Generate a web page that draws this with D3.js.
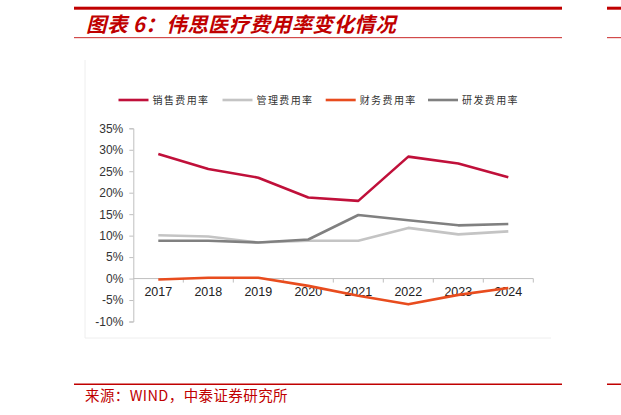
<!DOCTYPE html>
<html><head><meta charset="utf-8">
<script src="https://cdn.jsdelivr.net/npm/d3@7/dist/d3.min.js"></script>
<style>
body{margin:0;background:#fff;}
svg{display:block;}
</style></head>
<body>
<svg id="c" width="621" height="415"></svg>
<script>
const years = ["2017","2018","2019","2020","2021","2022","2023","2024"];
const seriesNames = ["销售费用率","管理费用率","财务费用率","研发费用率"];
const sales   = [29.0, 25.5, 23.5, 18.9, 18.1, 28.4, 26.8, 23.6];
const admin   = [10.1, 9.8, 8.4, 8.8, 8.8, 11.8, 10.3, 11.0];
const finance = [-0.2, 0.2, 0.2, -1.7, -4.0, -6.0, -3.8, -2.2];
const rnd     = [8.8, 8.8, 8.4, 9.1, 14.8, 13.6, 12.4, 12.7];
const yTicks  = [-10, -5, 0, 5, 10, 15, 20, 25, 30, 35];
const colors  = ["#C0103A", "#C4C4C4", "#E84C1E", "#808080"];
const seriesData = [sales, admin, finance, rnd];

const svg = d3.select("#c");
const red = "#C00000";

// header
svg.append("rect").attr("x",74).attr("y",6.7).attr("width",488).attr("height",3).attr("fill",red);
svg.append("rect").attr("x",607).attr("y",6.7).attr("width",14).attr("height",3).attr("fill",red);
svg.append("rect").attr("x",74).attr("y",37).attr("width",488).attr("height",1.2).attr("fill","#D24A4A");
svg.append("rect").attr("x",607).attr("y",37).attr("width",14).attr("height",1.2).attr("fill","#D24A4A");
svg.append("text").attr("x",86).attr("y",32).attr("fill",red)
  .attr("font-family","'Noto Sans CJK SC'").attr("font-size",20.5).attr("font-weight","bold")
  .attr("font-style","italic").attr("letter-spacing",0.4).text("图表 6：伟思医疗费用率变化情况");

// footer
svg.append("rect").attr("x",74).attr("y",383.5).attr("width",488).attr("height",1.5).attr("fill",red);
svg.append("rect").attr("x",607).attr("y",383.5).attr("width",14).attr("height",1.5).attr("fill",red);
svg.append("text").attr("x",85).attr("y",401).attr("fill",red)
  .attr("font-family","'Noto Sans CJK SC'").attr("font-size",14.5).attr("letter-spacing",0.4)
  .text("来源：WIND，中泰证券研究所");

// faint frame
svg.append("path").attr("d","M85,60V338H551").attr("fill","none").attr("stroke","#EEEEEE").attr("stroke-width",1);

// scales
const x = d3.scaleBand().domain(years).range([133.3, 533.3]).padding(0);
const y = d3.scaleLinear().domain([-10, 35]).range([321.5, 128.3]);
const axisColor = "#BFBFBF";

// y axis
const ya = svg.append("g").attr("transform","translate(133.3,0)")
  .call(d3.axisLeft(y).tickValues(yTicks).tickSize(4).tickPadding(6).tickFormat(d => d + "%"));
ya.select(".domain").attr("stroke",axisColor);
ya.selectAll(".tick line").attr("stroke",axisColor);
ya.selectAll(".tick text").attr("fill","#333").attr("font-family","'Liberation Sans', Arial").attr("font-size",12);

// x axis at zero
const xa = svg.append("g").attr("transform",`translate(0,${y(0)})`)
  .call(d3.axisBottom(x).tickSize(0).tickPadding(9));
xa.select(".domain").attr("stroke",axisColor).attr("d",`M133.3,0H533.3`);
xa.selectAll(".tick text").attr("fill","#222").attr("font-family","'Liberation Sans', Arial").attr("font-size",12.5);
// boundary ticks
const bounds = years.map(d => x(d)).concat([x(years[years.length-1]) + x.bandwidth()]).slice(1);
svg.append("g").selectAll("line").data(bounds).join("line")
  .attr("x1",d=>d).attr("x2",d=>d).attr("y1",y(0)).attr("y2",y(0)+4)
  .attr("stroke",axisColor);

// lines
const line = d3.line().x((d,i) => x(years[i]) + x.bandwidth()/2).y(d => y(d));
seriesData.forEach((s, k) => {
  svg.append("path").datum(s).attr("d", line).attr("fill","none")
    .attr("stroke", colors[k]).attr("stroke-width", 2.6).attr("stroke-linejoin","round");
});

// legend
const legX = [118.5, 222.5, 325.7, 428];
seriesNames.forEach((n, k) => {
  const g = svg.append("g").attr("transform",`translate(${legX[k]},100)`);
  g.append("line").attr("x1",0).attr("x2",30).attr("y1",0).attr("y2",0)
    .attr("stroke",colors[k]).attr("stroke-width",2.6);
  g.append("text").attr("x",34).attr("y",3.8).attr("fill","#333")
    .attr("font-family","'Noto Sans CJK SC'").attr("font-size",10).attr("letter-spacing",1.4)
    .text(n);
});
</script>
</body></html>
